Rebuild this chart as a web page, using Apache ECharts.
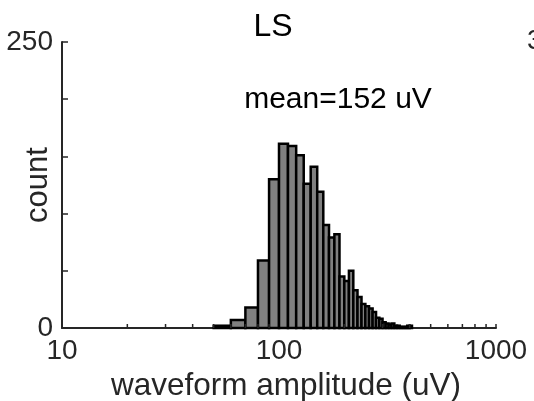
<!DOCTYPE html>
<html>
<head>
<meta charset="utf-8">
<title>LS waveform amplitude</title>
<script src="https://cdn.jsdelivr.net/npm/echarts@6/dist/echarts.min.js"></script>
<style>
  html, body { margin: 0; padding: 0; background: #fff; }
  #main { width: 534px; height: 401px; }
</style>
</head>
<body>
<div id="main"></div>
<script>
// histogram bin edges (uV), one more than counts
var binEdges = [50, 60, 70, 80, 90, 100, 110, 120, 130, 140, 150, 160, 170, 180, 190,
                200, 210, 220, 230, 240, 250, 260, 270, 280, 290, 300, 310, 320, 330,
                340, 350, 360, 370, 380, 390, 400, 410];
// counts
var counts = [2, 7, 18, 59, 130, 161, 159, 151, 126, 141, 119, 90, 79, 82, 45,
              41, 50, 33, 27, 21, 19, 17, 14, 9, 8, 5, 4, 3, 4,
              2, 2, 1, 1, 1, 2, 2];
// log axis minor ticks
var minorTicks = [20, 30, 40, 50, 60, 70, 80, 90, 200, 300, 400, 500, 600, 700, 800, 900];
var yLabels = [0, 250];

var FONT = '"Liberation Sans", Arial, sans-serif';
var AX = '#262626';

var bars = [];
for (var i = 0; i < counts.length; i++) {
    bars.push([binEdges[i], binEdges[i + 1], counts[i]]);
}

var chart = echarts.init(document.getElementById('main'));

var option = {
    animation: false,
    backgroundColor: '#fff',
    textStyle: { fontFamily: FONT },
    grid: { left: 62, right: 38, top: 42, bottom: 73, outerBoundsMode: 'none' },
    xAxis: {
        type: 'log',
        logBase: 10,
        min: 10,
        max: 1000,
        name: 'waveform amplitude (uV)',
        nameLocation: 'middle',
        nameGap: 38,
        nameTextStyle: { fontSize: 31.5, color: AX, fontFamily: FONT, padding: [0, 0, 0, 14] },
        axisLine: { lineStyle: { color: AX, width: 2 } },
        axisTick: { inside: true, length: 4, lineStyle: { color: AX, width: 1.5 } },
        axisLabel: {
            fontSize: 28, color: AX, margin: 9, fontFamily: FONT,
            formatter: function (v) { return String(Math.round(v)); }
        },
        splitLine: { show: false }
    },
    yAxis: {
        type: 'value',
        min: 0,
        max: 250,
        interval: 50,
        axisLine: { show: true, lineStyle: { color: AX, width: 2 } },
        axisTick: { show: true, inside: true, length: 6, lineStyle: { color: AX, width: 1.5 } },
        axisLabel: {
            fontSize: 28, color: AX, margin: 9, fontFamily: FONT,
            formatter: function (v) { return yLabels.indexOf(v) >= 0 ? String(v) : ''; }
        },
        splitLine: { show: false }
    },
    graphic: [
        { type: 'text', x: 273, y: 27,
          style: { text: 'LS', fontSize: 32, fontFamily: FONT, fill: '#000', align: 'center', verticalAlign: 'middle' } },
        { type: 'text', x: 338, y: 100,
          style: { text: 'mean=152 uV', fontSize: 30, fontFamily: FONT, fill: '#000', align: 'center', verticalAlign: 'middle' } },
        // y axis name
        { type: 'text', x: 38, y: 185, rotation: Math.PI / 2,
          style: { text: 'count', fontSize: 31, fontFamily: FONT, fill: AX, align: 'center', verticalAlign: 'middle' } },
        // tick label of the neighbouring panel, cut by the edge
        { type: 'text', x: 527, y: 41,
          style: { text: '300', fontSize: 28, fontFamily: FONT, fill: AX, align: 'left', verticalAlign: 'middle' } }
    ],
    series: [
        {
            type: 'custom',
            name: 'count',
            data: bars,
            encode: { x: [0, 1], y: 2 },
            renderItem: function (params, api) {
                var p0 = api.coord([api.value(0), api.value(2)]);
                var p1 = api.coord([api.value(1), 0]);
                return {
                    type: 'rect',
                    shape: { x: p0[0], y: p0[1], width: p1[0] - p0[0], height: p1[1] - p0[1] },
                    style: { fill: '#808080', stroke: '#000', lineWidth: 2.5 }
                };
            },
            z: 2
        },
        {
            type: 'custom',
            name: 'minor ticks',
            data: minorTicks.map(function (v) { return [v, 0]; }),
            encode: { x: 0, y: 1 },
            renderItem: function (params, api) {
                var p = api.coord([api.value(0), api.value(1)]);
                return {
                    type: 'line',
                    shape: { x1: p[0], y1: p[1], x2: p[0], y2: p[1] - 4 },
                    style: { stroke: AX, lineWidth: 1.5 }
                };
            },
            silent: true,
            z: 3
        }
    ]
};

chart.setOption(option);
</script>
</body>
</html>
